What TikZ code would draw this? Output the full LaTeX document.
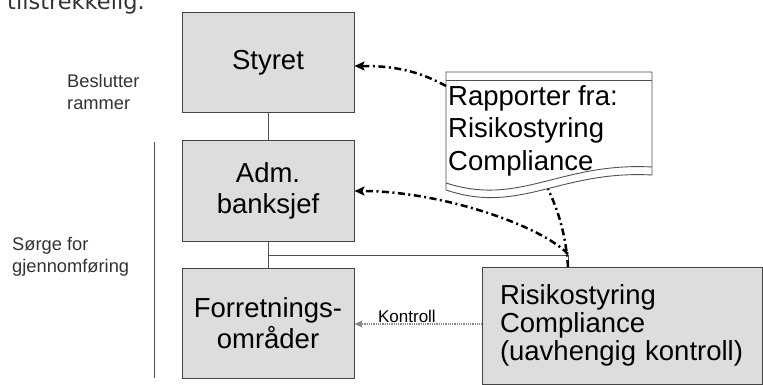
\documentclass[tikz,border=0pt]{standalone}
\usepackage{fontspec}
\setmainfont{Liberation Sans}
\newfontfamily\hdrfont{DejaVu Sans}
\usetikzlibrary{arrows.meta}
\definecolor{boxfill}{HTML}{DDDDDD}
\definecolor{boxborder}{HTML}{444444}
\definecolor{labelgray}{HTML}{333333}
\definecolor{ctrlgray}{HTML}{888888}
\definecolor{linegray}{HTML}{505050}
\tikzset{
  orgbox/.style={draw=boxborder, fill=boxfill, line width=1pt, inner sep=0pt,
    align=center, text=black, font=\fontsize{27.5}{31}\selectfont},
  riskbox/.style={draw=boxborder, fill=boxfill, line width=1pt, inner sep=0pt,
    align=left, text width=244pt, text=black, font=\fontsize{27.5}{28}\selectfont},
  conn/.style={draw=linegray, line width=0.9pt},
  sideline/.style={draw=linegray, line width=1pt},
  sidelabel/.style={anchor=west, inner sep=0pt, align=left, text=labelgray,
    font=\fontsize{18.3}{22}\selectfont},
  docline/.style={draw=linegray, line width=0.9pt},
  ddarrow/.style={draw=black, line width=2.5pt,
    dash pattern=on 7pt off 3.5pt on 2pt off 3.5pt,
    -{Stealth[length=10pt,width=9pt,inset=2pt]}},
  ddline/.style={draw=black, line width=2.5pt,
    dash pattern=on 7pt off 3.5pt on 2pt off 3.5pt},
  ctrlarrow/.style={draw=ctrlgray, line width=1.3pt, dash pattern=on 1pt off 0.8pt,
    -{Stealth[length=8pt,width=7pt,inset=1.5pt]}},
}
\begin{document}
\begin{tikzpicture}[x=1pt,y=-1pt]
\useasboundingbox (0,0) rectangle (763,385);

% cut-off header text (cut off in the reference as well)
\node[anchor=base west, inner sep=0pt, text=labelgray, font=\hdrfont\fontsize{22.5}{26}\selectfont] (hdr) at (7,9.5) {tilstrekkelig.};

% org boxes
\node[orgbox, minimum width=172pt, minimum height=100pt] (styret) at (268,63) {Styret};
\node[orgbox, minimum width=172pt, minimum height=100pt] (adm) at (268,191) {Adm.\\banksjef};
\node[orgbox, minimum width=172pt, minimum height=110pt] (forr) at (268,323) {Forretnings-\\områder};
\node[riskbox, minimum width=280pt, minimum height=117pt] (risk) at (622,325.5) {Risikostyring\\Compliance\\(uavhengig kontroll)};

% side labels and bracket line
\node[sidelabel] (besl) at (67,92.3) {Beslutter\\rammer};
\node[sidelabel] (sorge) at (12,256.6) {Sørge for\\gjennomføring};
\coordinate (sidetop) at (154,142);
\coordinate (sidebot) at (154,378);
\draw[sideline] (sidetop) -- (sidebot);

% solid connectors
\coordinate (rtop) at (568,267);
\draw[conn] (styret.south) -- (adm.north);
\draw[conn] (adm.south) -- (forr.north);
\draw[conn] (adm.south |- 0,255) -| (rtop);

% report document
\draw[docline, fill=white] (446,72) -- (652,72) -- (652,175)
  .. controls (560,170) and (520,215) .. (446,190) -- cycle;
\draw[docline] (446,80) -- (652,80);
\draw[docline] (652,167) .. controls (560,162) and (520,207) .. (446,183);
\node[anchor=west, inner sep=0pt, align=left, text=black,
  font=\fontsize{27.5}{32.5}\selectfont] (doctext) at (448,130.5)
  {Rapporter fra:\\Risikostyring\\Compliance};
\coordinate (docL) at (446,86);
\coordinate (docB) at (548,189);
\coordinate (junc) at (568,254);

% dash-dot report flows
\draw[ddarrow] (docL) .. controls (415,69) and (390,66) .. ([yshift=-3pt]styret.east);
\draw[ddarrow] (junc) .. controls (540,225) and (440,191) .. (adm.east);
\draw[ddline] (rtop) .. controls (566,235) and (558,210) .. (docB);

% control arrow
\draw[ctrlarrow] ([yshift=1.5pt]risk.west) -- ([yshift=1.5pt]risk.west -| forr.east)
  node[pos=0.587, anchor=base, yshift=1.2pt, inner sep=0pt, text=black,
  font=\fontsize{17}{20}\selectfont] (ktrl) {Kontroll};
\end{tikzpicture}
\end{document}
